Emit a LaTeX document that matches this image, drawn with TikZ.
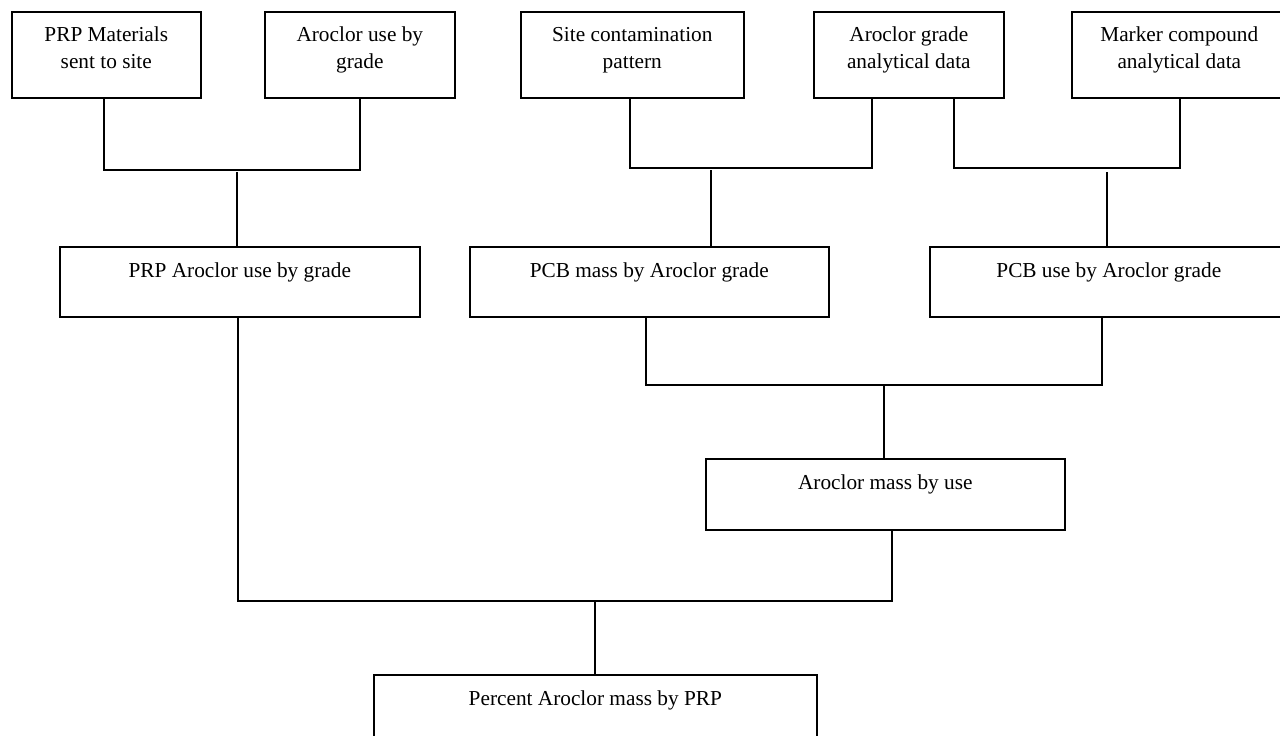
\documentclass[tikz,border=0pt]{standalone}
\usepackage{fontspec}
\setmainfont{Liberation Serif}
\begin{document}
\begin{tikzpicture}[x=1bp,y=-1bp,
  box/.style={draw, line width=1.6bp, inner sep=0pt, anchor=north west},
  lbl/.style={anchor=base, inner sep=0pt, font=\fontsize{21.3bp}{26.5bp}\selectfont},
  conn/.style={line width=1.4bp}]
\useasboundingbox (0,0) rectangle (1280,736);
\clip (0,0) rectangle (1280,736);
% top row
\node[box, minimum width=189bp, minimum height=86bp] (b1) at (11,11) {};
\node[box, minimum width=190bp, minimum height=86bp] (b2) at (264,11) {};
\node[box, minimum width=223bp, minimum height=86bp] (b3) at (520,11) {};
\node[box, minimum width=190bp, minimum height=86bp] (b4) at (813,11) {};
\node[box, minimum width=215bp, minimum height=86bp] (b5) at (1071,11) {};
% middle row
\node[box, minimum width=360bp, minimum height=70bp] (m1) at (59,246) {};
\node[box, minimum width=359bp, minimum height=70bp] (m2) at (469,246) {};
\node[box, minimum width=358bp, minimum height=70bp] (m3) at (929,246) {};
\node[box, minimum width=359bp, minimum height=71bp] (m4) at (705,458) {};
\node[box, minimum width=443bp, minimum height=80bp] (p) at (373,674) {};
% labels
\node[lbl] (t1) at ([yshift=-31bp]b1.north) {\begin{tabular}[t]{@{}c@{}}PRP Materials\\sent to site\end{tabular}};
\node[lbl] (t2) at ([yshift=-31bp]b2.north) {\begin{tabular}[t]{@{}c@{}}Aroclor use by\\grade\end{tabular}};
\node[lbl] (t3) at ([yshift=-31bp]b3.north) {\begin{tabular}[t]{@{}c@{}}Site contamination\\pattern\end{tabular}};
\node[lbl] (t4) at ([yshift=-31bp]b4.north) {\begin{tabular}[t]{@{}c@{}}Aroclor grade\\analytical data\end{tabular}};
\node[lbl] (t5) at ([yshift=-31bp]b5.north) {\begin{tabular}[t]{@{}c@{}}Marker compound\\analytical data\end{tabular}};
\node[lbl] (tm1) at ([yshift=-31bp]m1.north) {PRP Aroclor use by grade};
\node[lbl] (tm2) at ([yshift=-31bp]m2.north) {PCB mass by Aroclor grade};
\node[lbl] (tm3) at ([yshift=-31bp]m3.north) {PCB use by Aroclor grade};
\node[lbl] (tm4) at ([yshift=-31bp]m4.north) {Aroclor mass by use};
\node[lbl] (tp) at ([yshift=-31bp]p.north) {Percent Aroclor mass by PRP};
% junctions
\coordinate (ja) at (237,170);
\coordinate (jb) at (711,168);
\coordinate (jc) at (1107,168);
\coordinate (jd) at (884,385);
\coordinate (je) at (595,601);
% connectors
\draw[conn] ([xshift=-2.5bp]b1.south) |- (ja) -| (b2.south);
\draw[conn] ([yshift=-2bp]ja) -- (ja |- m1.north);
\draw[conn] ([xshift=-2.5bp]b3.south) |- (jb) -| ([xshift=-37bp]b4.south);
\draw[conn] ([yshift=-2bp]jb) -- (jb |- m2.north);
\draw[conn] ([xshift=45bp]b4.south) |- (jc) -| ([xshift=0.5bp]b5.south);
\draw[conn] ([yshift=-4bp]jc) -- (jc |- m3.north);
\draw[conn] ([xshift=-3.5bp]m2.south) |- (jd) -| ([xshift=-7bp]m3.south);
\draw[conn] (jd) -- (jd |- m4.north);
\draw[conn] ([xshift=-2bp]m1.south) |- (je) -| ([xshift=6.5bp]m4.south);
\draw[conn] (je) -- (je |- p.north);
\end{tikzpicture}
\end{document}
